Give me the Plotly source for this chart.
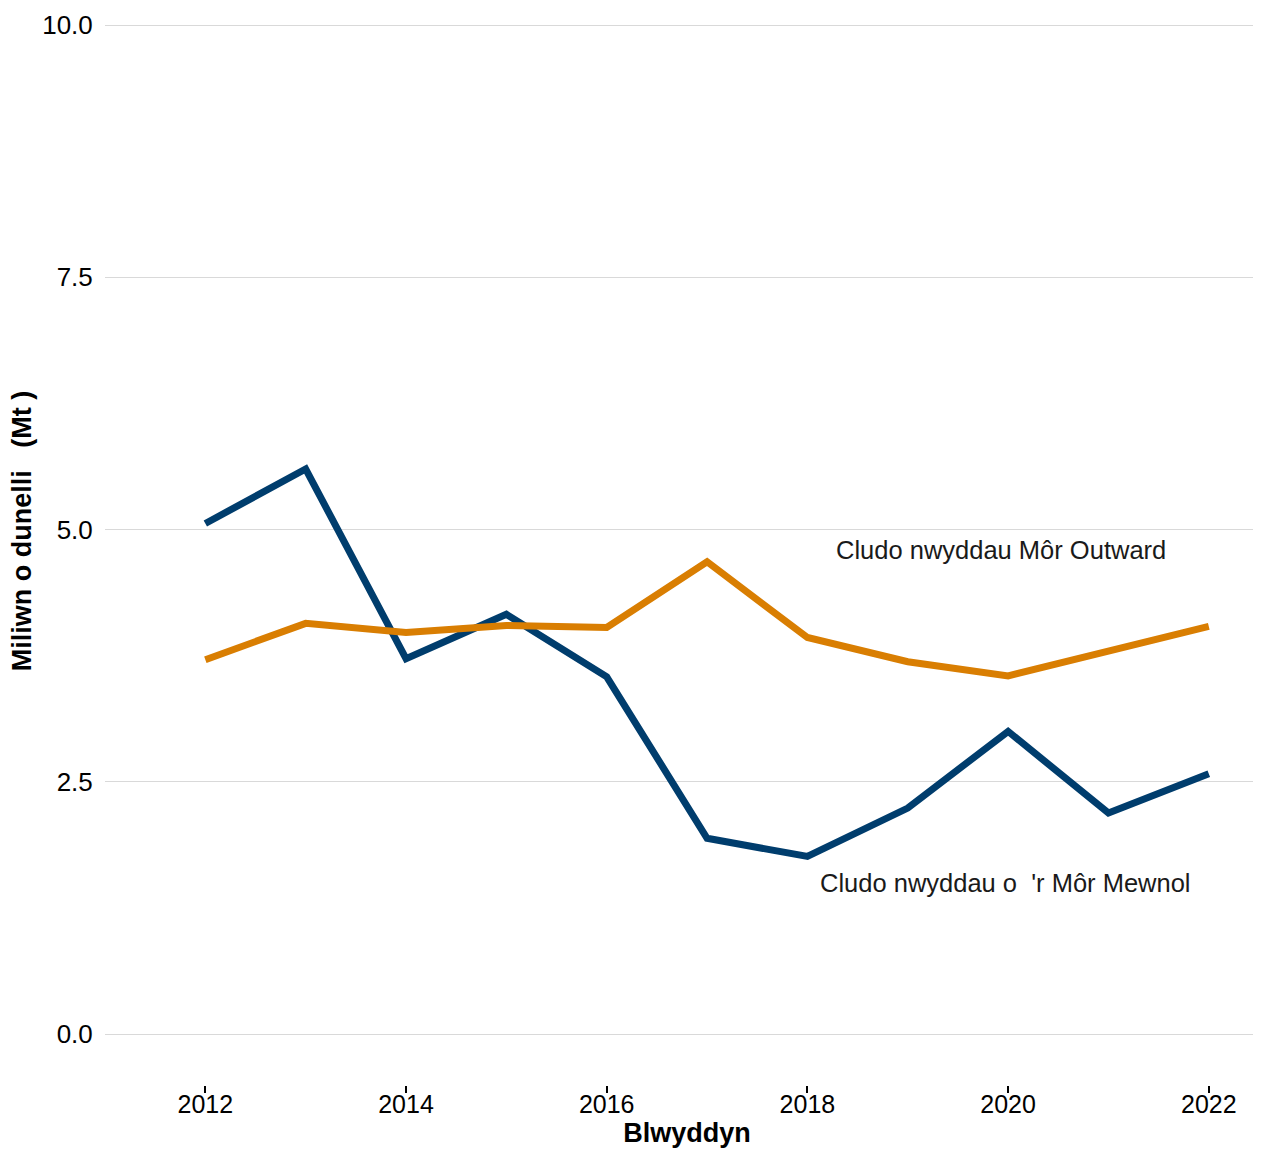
import plotly.graph_objects as go

years = [2012, 2013, 2014, 2015, 2016, 2017, 2018, 2019, 2020, 2021, 2022]
mewnol = [5.06, 5.60, 3.72, 4.16, 3.54, 1.94, 1.76, 2.24, 3.00, 2.19, 2.58]
outward = [3.71, 4.07, 3.98, 4.05, 4.03, 4.68, 3.93, 3.69, 3.55, 3.79, 4.04]

label_outward = "Cludo nwyddau Môr Outward"
label_mewnol = "Cludo nwyddau o\u00a0 'r Môr Mewnol"
y_title = "<b>Miliwn o dunelli\u00a0\u00a0 (Mt\u00a0)</b>"

BLUE = "#003D6D"
ORANGE = "#D97E02"
FONT = "Liberation Sans, Arial, sans-serif"

fig = go.Figure()
fig.add_trace(go.Scatter(x=years, y=mewnol, mode="lines", name=label_mewnol,
                         line=dict(color=BLUE, width=7)))
fig.add_trace(go.Scatter(x=years, y=outward, mode="lines", name=label_outward,
                         line=dict(color=ORANGE, width=7)))

fig.add_annotation(x=2019.93, y=4.80, text=label_outward, showarrow=False,
                   font=dict(size=25.5, color="#1a1a1a", family=FONT))
fig.add_annotation(x=2019.97, y=1.50, text=label_mewnol, showarrow=False,
                   font=dict(size=25.5, color="#1a1a1a", family=FONT))
fig.add_annotation(x=0, xref="paper", xanchor="center", xshift=-83,
                   y=0.52, yref="paper", yanchor="middle",
                   text=y_title, textangle=-90, showarrow=False,
                   font=dict(size=27, color="black", family=FONT))

fig.update_layout(
    width=1261, height=1141,
    margin=dict(l=97, r=0, t=12, b=64, autoexpand=False),
    plot_bgcolor="white", paper_bgcolor="white",
    showlegend=False,
    font=dict(family=FONT, size=25, color="#1a1a1a"),
)
fig.update_xaxes(
    range=[2011.0, 2022.6], tickvals=[2012, 2014, 2016, 2018, 2020, 2022],
    showgrid=False, zeroline=False, showline=False, automargin=False,
    ticks="outside", ticklen=7, tickwidth=2, tickcolor="black",
    ticklabelstandoff=-10,
    tickfont=dict(size=25, color="black"),
    title=dict(text="<b>Blwyddyn</b>", font=dict(size=27, color="black"), standoff=4),
)
fig.update_yaxes(
    range=[-0.505, 10.05], tickvals=[0, 2.5, 5, 7.5, 10],
    ticktext=["0.0", "2.5", "5.0", "7.5", "10.0"],
    showgrid=True, gridcolor="#d9d9d9", gridwidth=1, zeroline=False, showline=False,
    automargin=False,
    ticks="outside", ticklen=6, tickcolor="rgba(0,0,0,0)",
    tickfont=dict(size=26, color="black"),
)

fig.write_html("out.html")
